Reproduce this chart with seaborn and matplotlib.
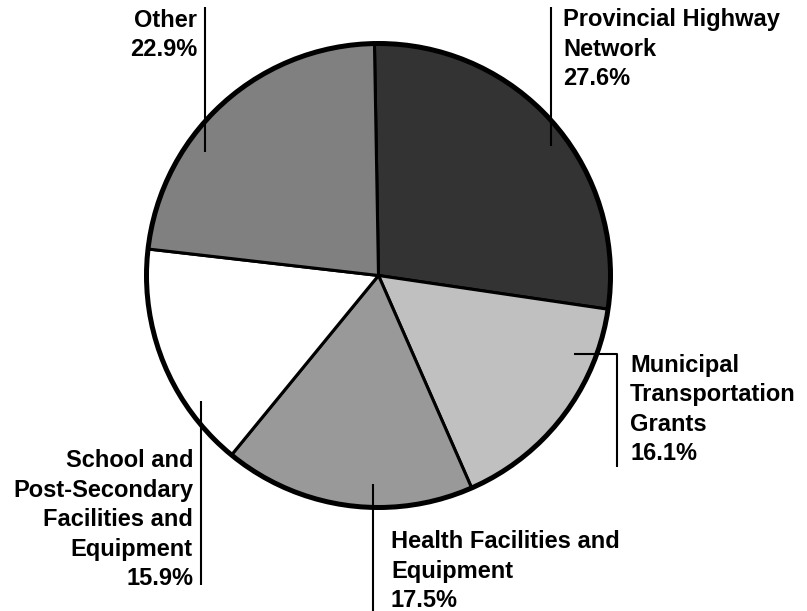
import matplotlib
matplotlib.use("Agg")
import matplotlib.pyplot as plt
import seaborn as sns

sns.set_theme(style="white")
plt.rcParams['font.family'] = ['Liberation Sans', 'DejaVu Sans']

# slices, clockwise from the top
labels = ["Provincial Highway\nNetwork", "Municipal\nTransportation\nGrants",
          "Health Facilities and\nEquipment", "School and\nPost-Secondary\nFacilities and\nEquipment",
          "Other"]
shares = [27.6, 16.1, 17.5, 15.9, 22.9]
colors = ["#333333", "#c0c0c0", "#999999", "#ffffff", "#808080"]

W, H = 807, 611
fig = plt.figure(figsize=(W / 100, H / 100), dpi=100)
ax = fig.add_axes([0, 0, 1, 1])

cx, cy, r = 378.5, H - 275.5, 232
ax.pie(shares, colors=colors, startangle=91, counterclock=False,
       center=(cx, cy), radius=r, frame=True,
       wedgeprops=dict(edgecolor="black", linewidth=2.2))
ax.set_xlim(0, W)
ax.set_ylim(0, H)
ax.set_aspect("equal")
ax.axis("off")
ax.add_patch(plt.Circle((cx, cy), r, fill=False, edgecolor="black", linewidth=3.6))

# leader lines (pixel coords from top)
leaders = [
    [(551, 7), (551, 146)],
    [(574, 354), (617, 354), (617, 467)],
    [(373, 484), (373, 611)],
    [(201, 401), (201, 585)],
    [(205, 7), (205, 152)],
]
for pts in leaders:
    xs = [p[0] for p in pts]
    ys = [H - p[1] for p in pts]
    ax.plot(xs, ys, color="black", linewidth=1.5, solid_capstyle="butt")

# label anchors: x, last baseline (from top), alignment
anchors = [(563, 85, "left"), (630, 460, "left"), (391, 607, "left"),
           (193, 585, "right"), (197, 56, "right")]
for lab, val, (x, y, ha) in zip(labels, shares, anchors):
    ax.text(x, H - y, f"{lab}\n{val}%", ha=ha, va="baseline", fontsize=17,
            fontweight="bold", color="black", linespacing=1.36,
            multialignment=ha)

fig.savefig("out.png", dpi=100)
